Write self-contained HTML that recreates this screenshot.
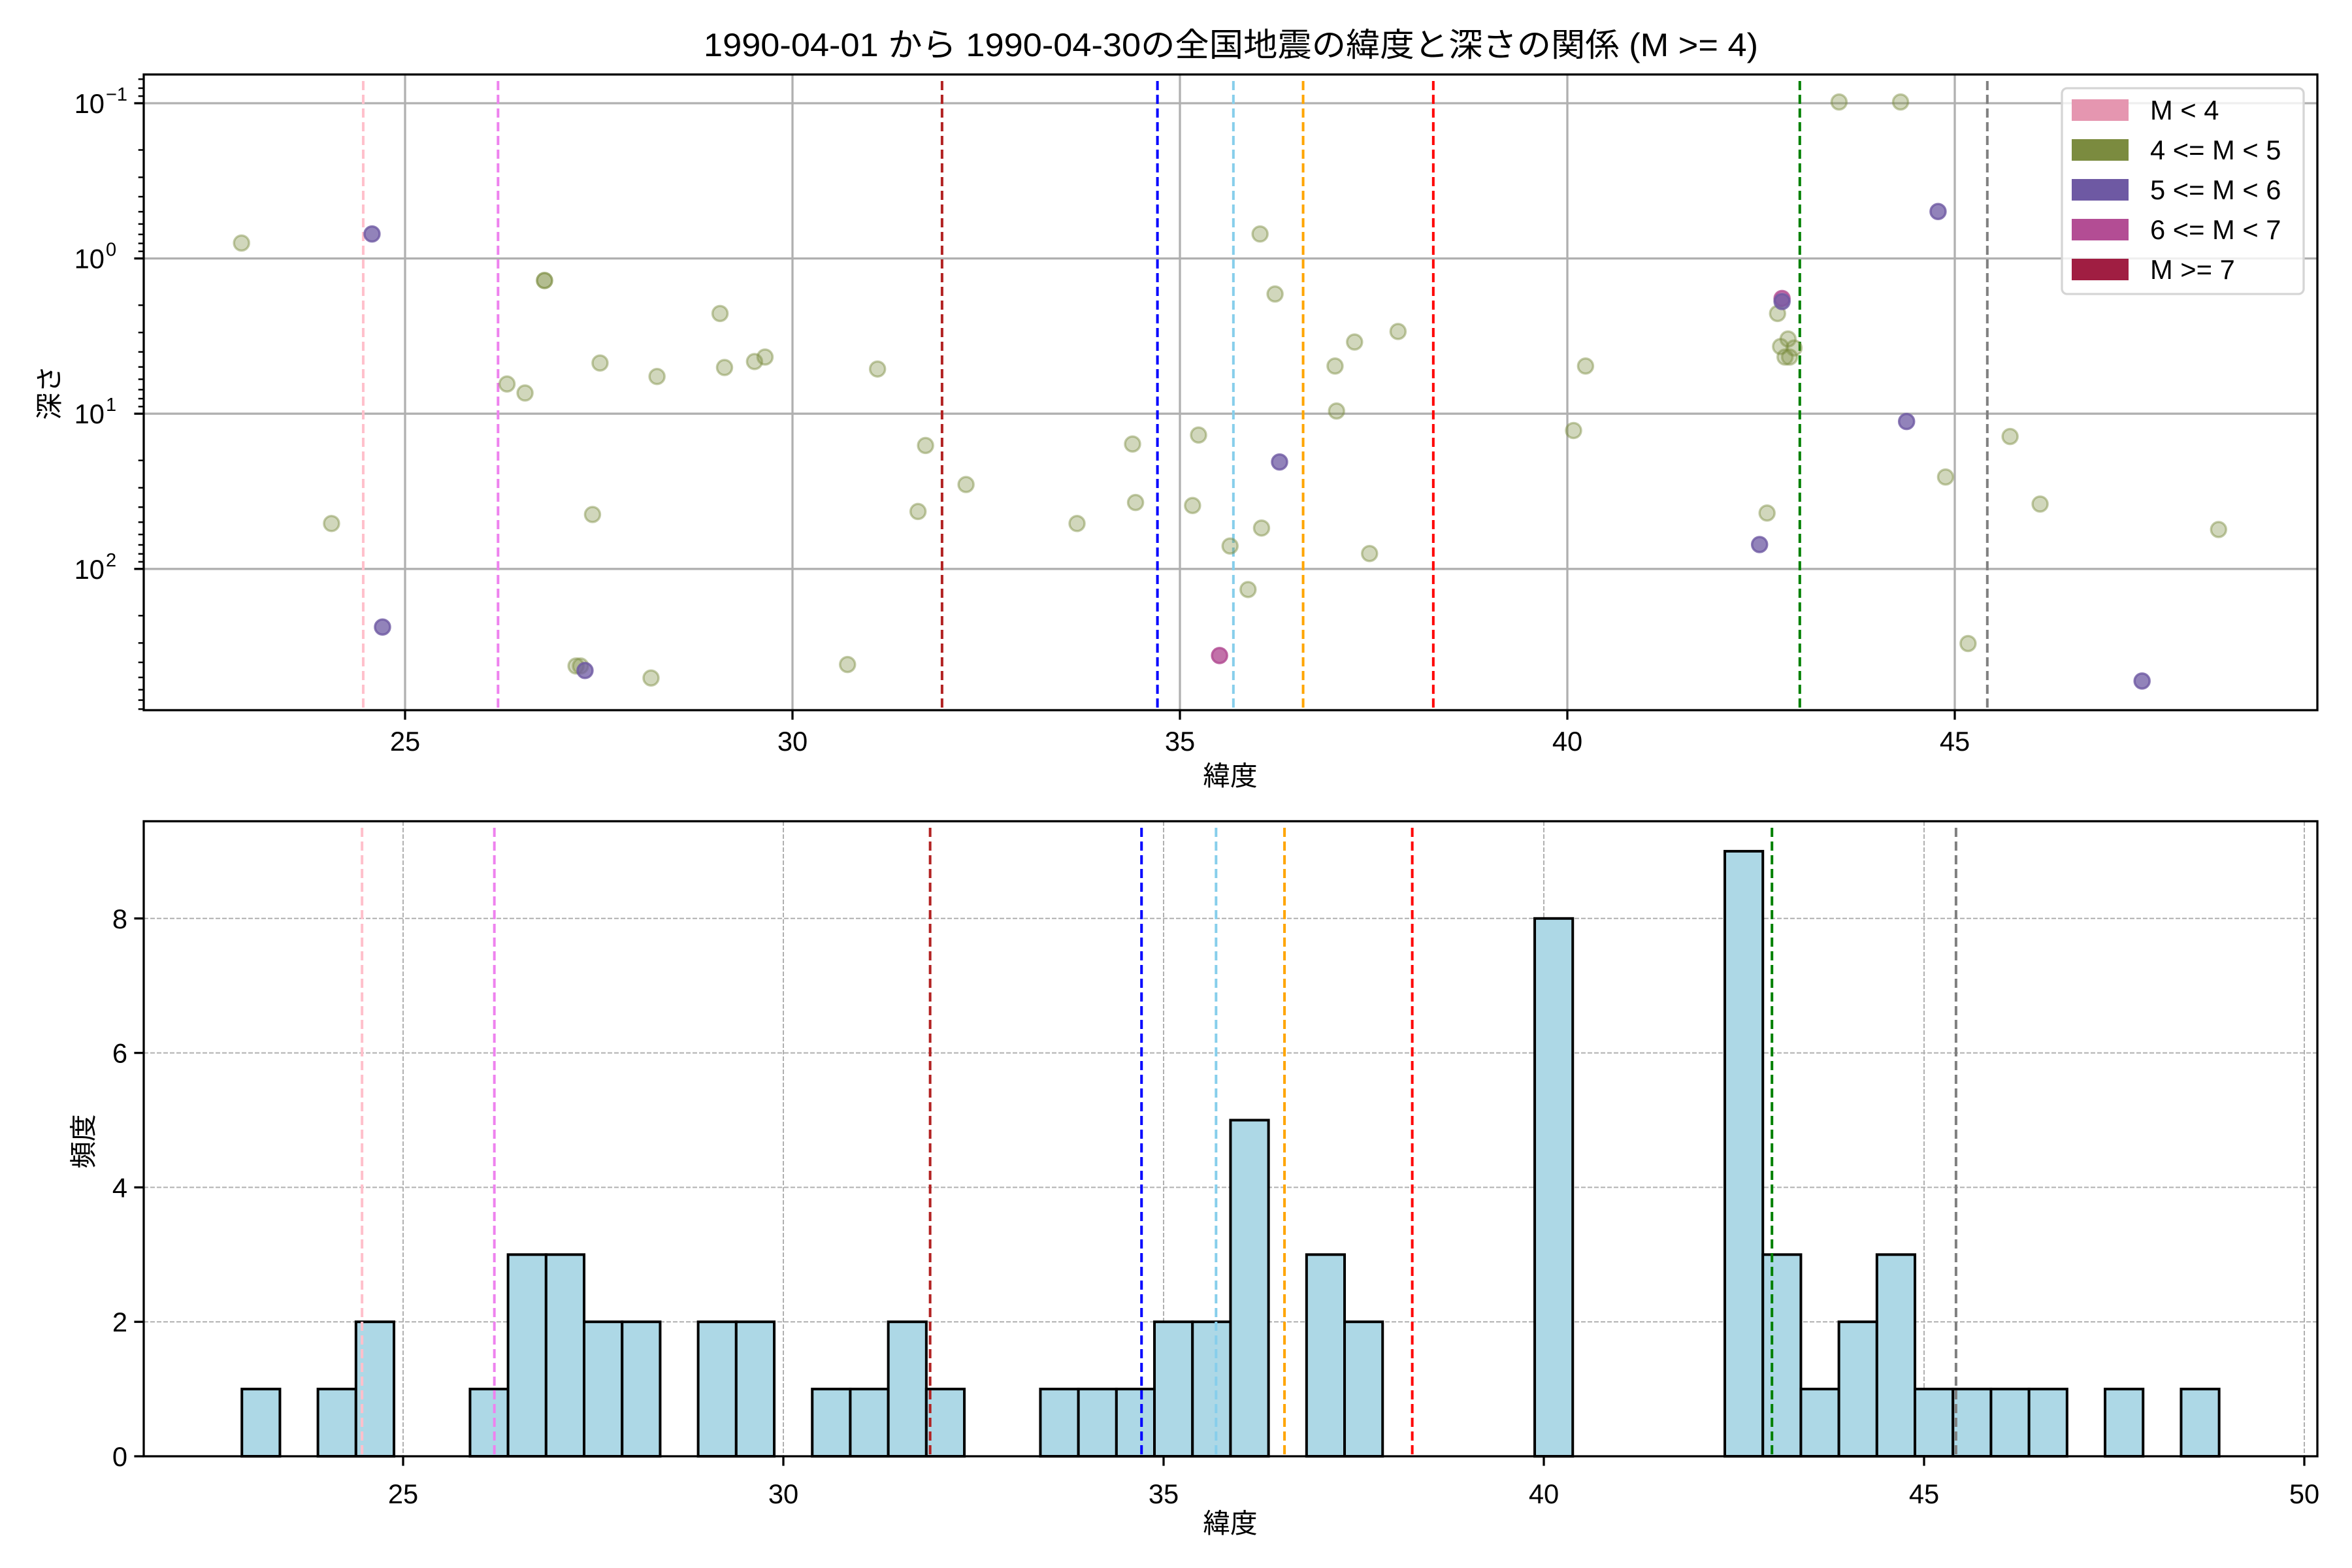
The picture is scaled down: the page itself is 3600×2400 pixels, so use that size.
<!DOCTYPE html>
<html><head><meta charset="utf-8">
<style>html,body{margin:0;padding:0;background:#fff;}svg{display:block;}</style>
</head><body>
<svg id="s" xmlns="http://www.w3.org/2000/svg" width="3600" height="2400" viewBox="0 0 3600 2400" font-family="Liberation Sans, Noto Sans CJK JP, sans-serif">
<rect width="3600" height="2400" fill="#fff"/>
<text x="1884" y="86" font-size="50" text-anchor="middle" textLength="1614" lengthAdjust="spacingAndGlyphs" font-family="Liberation Sans, Noto Sans CJK JP, sans-serif">1990-04-01 から 1990-04-30の全国地震の緯度と深さの関係 (M &gt;= 4)</text>
<g id="gtop"></g>
<g id="gbot"></g>
</svg>
<script>
(function(){
const NS="http://www.w3.org/2000/svg";
function el(p,t,a,txt){const e=document.createElementNS(NS,t);for(const k in a)e.setAttribute(k,a[k]);if(txt!==undefined)e.textContent=txt;p.appendChild(e);return e;}
const gt=document.getElementById('gtop'),gb=document.getElementById('gbot');
const L=220,R=3547,T1=114,B1=1087;
const xT=l=>620+(l-25)*118.6;
const yT=e=>158+(e+1)*237.6;
for(const g of [25,30,35,40,45]){el(gt,'line',{x1:xT(g),x2:xT(g),y1:T1,y2:B1,stroke:'#b0b0b0','stroke-width':3.3});}
for(const e of [-1,0,1,2]){el(gt,'line',{x1:L,x2:R,y1:yT(e),y2:yT(e),stroke:'#b0b0b0','stroke-width':3.3});}
const vl=[[24.46,'pink'],[26.2,'violet'],[31.93,'#b22222'],[34.71,'blue'],[35.69,'skyblue'],[36.59,'orange'],[38.27,'red'],[43.0,'green'],[45.42,'gray']];
for(const [l,c] of vl){el(gt,'line',{x1:xT(l),x2:xT(l),y1:T1+10,y2:B1,stroke:c,'stroke-width':4,'stroke-dasharray':'14 7'});}
const s=2.296;
const G=[[161,162],[221,349],[363,187],[363,187],[338,256],[350,262],[400,242],[395,343],[438,251],[480,209],[483,245],[503,241],[510,238],[384,444],[387,444],[434,452],[565,443],[585,246],[617,297],[612,341],[644,323],[718,349],[755,296],[757,335],[795,337],[799,290],[840,156],[850,196],[841,352],[820,364],[832,393],[890,244],[903,228],[932,221],[891,274],[913,369],[1049,287],[1057,244],[1178,342],[1185,209],[1187,231],[1192,226],[1193,238],[1196,232],[1190,238],[1226,68],[1267,68],[1297,318],[1340,291],[1312,429],[1360,336],[1479,353]];
const P=[[248,156],[255,418],[390,447],[853,308],[1188,201],[1173,363],[1292,141],[1271,281],[1428,454]];
const r=11.5;
for(const [x,y] of G)el(gt,'circle',{cx:x*s,cy:y*s,r:r,fill:'rgba(123,139,63,0.35)',stroke:'rgba(123,139,63,0.45)','stroke-width':3.5});
el(gt,'circle',{cx:1188*s,cy:199*s,r:r,fill:'rgba(179,77,148,0.75)',stroke:'rgba(179,77,148,0.8)','stroke-width':3.5});
for(const [x,y] of P)el(gt,'circle',{cx:x*s,cy:y*s,r:r,fill:'rgba(110,89,163,0.75)',stroke:'rgba(110,89,163,0.8)','stroke-width':3.5});
el(gt,'circle',{cx:813*s,cy:437*s,r:r,fill:'rgba(179,77,148,0.8)',stroke:'rgba(179,77,148,0.85)','stroke-width':3.5});
el(gt,'rect',{x:L,y:T1,width:R-L,height:B1-T1,fill:'none',stroke:'#000','stroke-width':3.3});
for(const g of [25,30,35,40,45]){el(gt,'line',{x1:xT(g),x2:xT(g),y1:B1,y2:B1+14.6,stroke:'#000','stroke-width':3.3});el(gt,'text',{x:xT(g),y:B1+62,'font-size':41.7,'text-anchor':'middle'},g);}
for(const e of [-1,0,1,2]){const y=yT(e);el(gt,'line',{x1:L-14.6,x2:L,y1:y,y2:y,stroke:'#000','stroke-width':3.3});
 el(gt,'text',{x:L-60,y:y+15,'font-size':41.7,'text-anchor':'end'},'10');
 el(gt,'text',{x:L-58,y:y-4,'font-size':29,'text-anchor':'start'},String(e).replace('-','\u2212'));}
for(let e=-2;e<=2;e++)for(let m=2;m<=9;m++){const y=yT(e+Math.log10(m));if(y>T1&&y<B1)el(gt,'line',{x1:L-8.3,x2:L,y1:y,y2:y,stroke:'#000','stroke-width':2.5});}
el(gt,'text',{x:1883,y:1202,'font-size':41.7,'text-anchor':'middle'},'緯度');
el(gt,'text',{x:0,y:0,'font-size':41.7,'text-anchor':'middle',transform:'translate(90,601) rotate(-90)'},'深さ');
el(gt,'rect',{x:3156,y:135,width:370,height:315,rx:8,fill:'rgba(255,255,255,0.8)',stroke:'#d5d5d5','stroke-width':3.3});
const lg=[['#e596b0','M < 4'],['#7b8b3f','4 <= M < 5'],['#6e59a3','5 <= M < 6'],['#b34d94','6 <= M < 7'],['#a01e42','M >= 7']];
lg.forEach(([c,t],i)=>{const y=152+i*61;el(gt,'rect',{x:3171,y:y,width:87,height:33,fill:c});el(gt,'text',{x:3291,y:y+31,'font-size':41.7},t);});
const T2=1257,B2=2229;
const xB=l=>617+(l-25)*116.4;
const yB=c=>2229-c*102.9;
for(const g of [25,30,35,40,45,50])el(gb,'line',{x1:xB(g),x2:xB(g),y1:T2,y2:B2,stroke:'#b0b0b0','stroke-width':2,'stroke-dasharray':'7 3'});
for(const c of [2,4,6,8])el(gb,'line',{x1:L,x2:R,y1:yB(c),y2:yB(c),stroke:'#b0b0b0','stroke-width':2,'stroke-dasharray':'7 3'});
const bins={0:1,2:1,3:2,6:1,7:3,8:3,9:2,10:2,12:2,13:2,15:1,16:1,17:2,18:1,21:1,22:1,23:1,24:2,25:2,26:5,28:3,29:2,34:8,39:9,40:3,41:1,42:2,43:3,44:1,45:1,46:1,47:1,49:1,51:1};
for(const k in bins){const x0=xB(22.88+0.5*k),x1=xB(22.88+0.5*k+0.5);el(gb,'rect',{x:x0,y:yB(bins[k]),width:x1-x0,height:bins[k]*102.9,fill:'#add8e6',stroke:'#000','stroke-width':4});}
for(const [l,c] of vl){el(gb,'line',{x1:xB(l),x2:xB(l),y1:T2+10,y2:B2,stroke:c,'stroke-width':4,'stroke-dasharray':'14 7'});}
el(gb,'rect',{x:L,y:T2,width:R-L,height:B2-T2,fill:'none',stroke:'#000','stroke-width':3.3});
for(const g of [25,30,35,40,45,50]){el(gb,'line',{x1:xB(g),x2:xB(g),y1:B2,y2:B2+14.6,stroke:'#000','stroke-width':3.3});el(gb,'text',{x:xB(g),y:B2+72,'font-size':41.7,'text-anchor':'middle'},g);}
for(const c of [0,2,4,6,8]){el(gb,'line',{x1:L-14.6,x2:L,y1:yB(c),y2:yB(c),stroke:'#000','stroke-width':3.3});el(gb,'text',{x:L-25,y:yB(c)+15,'font-size':41.7,'text-anchor':'end'},c);}
el(gb,'text',{x:1883,y:2346,'font-size':41.7,'text-anchor':'middle'},'緯度');
el(gb,'text',{x:0,y:0,'font-size':41.7,'text-anchor':'middle',transform:'translate(142,1747) rotate(-90)'},'頻度');
})();
</script>
</body></html>
